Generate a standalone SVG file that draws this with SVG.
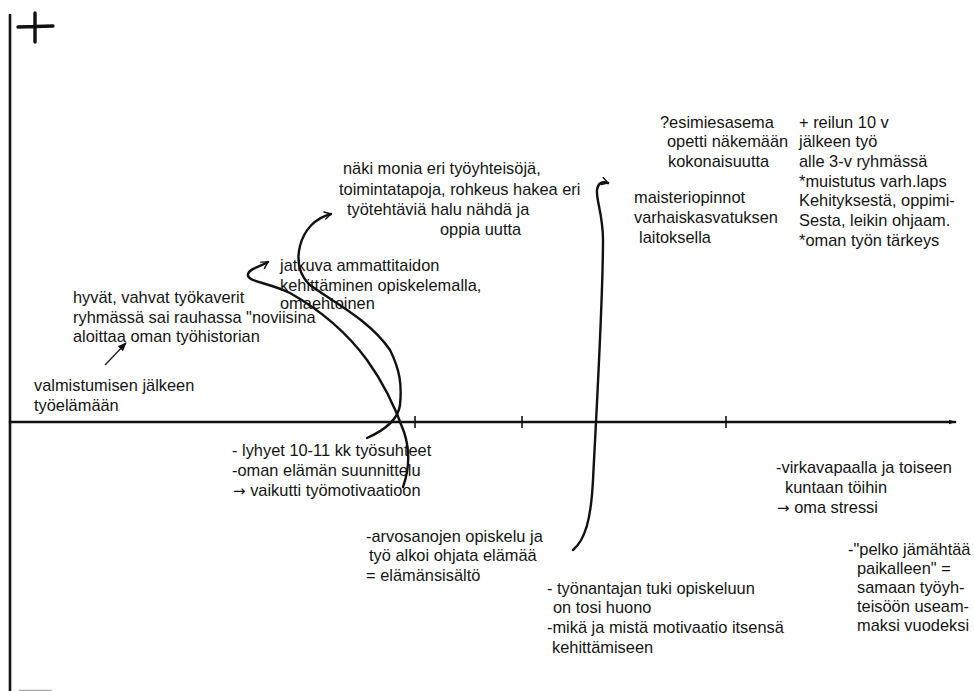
<svg xmlns="http://www.w3.org/2000/svg" width="974" height="691" viewBox="0 0 974 691">
  <style>
    .t { font-family: "Liberation Sans", Arial, sans-serif; font-size: 16.4px; fill: #141414; }
    .ar { font-family: "DejaVu Sans", sans-serif; font-size: 15px; }
    .axis { stroke: #111; stroke-width: 2.6; fill: none; stroke-linecap: round; }
    .tick { stroke: #111; stroke-width: 1.6; }
    .curve { stroke: #111; stroke-width: 2.4; fill: none; stroke-linecap: round; stroke-linejoin: round; }
    .thin { stroke: #222; stroke-width: 1.4; fill: none; }
  </style>
  <defs>
    <marker id="hook" viewBox="0 0 10 10" refX="8" refY="5" markerWidth="9" markerHeight="9" markerUnits="userSpaceOnUse" orient="auto">
      <path d="M1,1 L8,5 L1,9" fill="none" stroke="#111" stroke-width="1.6" stroke-linecap="round" stroke-linejoin="round"/>
    </marker>
    <marker id="solid" viewBox="0 0 10 10" refX="9" refY="5" markerWidth="9" markerHeight="9" markerUnits="userSpaceOnUse" orient="auto">
      <path d="M0,1 L10,5 L0,9 Z" fill="#111"/>
    </marker>
    <marker id="axisEnd" viewBox="0 0 10 10" refX="8" refY="5" markerWidth="8" markerHeight="8" markerUnits="userSpaceOnUse" orient="auto">
      <path d="M0,2 L9,5 L0,8 Z" fill="#111"/>
    </marker>
  </defs>

  <rect width="974" height="691" fill="#fff"/>

  <!-- axes and scale -->
  <g id="axes">
    <line class="axis" x1="10" y1="15" x2="10" y2="691"/>
    <line class="axis" x1="10" y1="422" x2="955" y2="422" marker-end="url(#axisEnd)"/>
    <line class="tick" x1="415" y1="416" x2="415" y2="428"/>
    <line class="tick" x1="522" y1="416" x2="522" y2="428"/>
    <line class="tick" x1="726" y1="416" x2="726" y2="428"/>
    <!-- plus sign (positive side) -->
    <path d="M35,13 L35,42 M18,27 L53,26" stroke="#111" stroke-width="3.4" stroke-linecap="round" fill="none"/>
    <!-- minus sign, clipped by the bottom edge -->
    <path d="M19,690.5 L52,690.5" stroke="#aaa" stroke-width="1.5" fill="none"/>
  </g>

  <!-- connectors -->
  <g id="connectors">
    <path id="c-start" class="thin" d="M105,365 L126,343" marker-end="url(#solid)"/>
    <path id="c-jatkuva" class="curve" d="M403,487 C409,470 410,450 404,432 C398,415 385,385 367,360 C345,330 320,310 290,293 C268,282 246,282 248,274 C250,268 258,268 268,262" marker-end="url(#hook)"/>
    <path id="c-naki" class="curve" d="M367,438 C385,430 398,420 400,405 C402,385 400,370 390,350 C370,320 330,300 310,285 C300,276 296,262 300,246 C304,230 315,218 331,214" marker-end="url(#hook)"/>
    <path id="c-maisteri" class="curve" d="M573,550 C585,540 591,520 593,480 C596,420 603,300 603,240 C603,215 596,200 597,190 C598,183 602,181 608,183" marker-end="url(#hook)"/>
  </g>

  <!-- notes -->
  <g id="n-valmistuminen" class="t">
    <text x="34" y="391">valmistumisen jälkeen</text>
    <text x="34" y="411">työelämään</text>
  </g>

  <g id="n-tyokaverit" class="t">
    <text x="73" y="303">hyvät, vahvat työkaverit</text>
    <text x="73" y="323">ryhmässä sai rauhassa "noviisina</text>
    <text x="73" y="342">aloittaa oman työhistorian</text>
  </g>

  <g id="n-lyhyet" class="t">
    <text x="232" y="456">- lyhyet 10-11 kk työsuhteet</text>
    <text x="232" y="476">-oman elämän suunnittelu</text>
    <text x="233" y="496"><tspan class="ar">→</tspan> vaikutti työmotivaatioon</text>
  </g>

  <g id="n-jatkuva" class="t">
    <text x="280" y="271">jatkuva ammattitaidon</text>
    <text x="280" y="291">kehittäminen opiskelemalla,</text>
    <text x="280" y="309">omaehtoinen</text>
  </g>

  <g id="n-naki" class="t">
    <text x="343" y="174">näki monia eri työyhteisöjä,</text>
    <text x="339" y="195">toimintatapoja, rohkeus hakea eri</text>
    <text x="347" y="215">työtehtäviä  halu nähdä ja</text>
    <text x="440" y="235">oppia uutta</text>
  </g>

  <g id="n-arvosanat" class="t">
    <text x="366" y="542">-arvosanojen opiskelu ja</text>
    <text x="369" y="561">työ alkoi ohjata elämää</text>
    <text x="366" y="581">= elämänsisältö</text>
  </g>

  <g id="n-tyonantaja" class="t">
    <text x="547" y="594">- työnantajan tuki opiskeluun</text>
    <text x="553" y="613">on tosi huono</text>
    <text x="547" y="633">-mikä ja mistä motivaatio itsensä</text>
    <text x="552" y="653">kehittämiseen</text>
  </g>

  <g id="n-esimies" class="t">
    <text x="660" y="128">?esimiesasema</text>
    <text x="667" y="147">opetti näkemään</text>
    <text x="668" y="167">kokonaisuutta</text>
  </g>

  <g id="n-maisteri" class="t">
    <text x="634" y="203">maisteriopinnot</text>
    <text x="634" y="223">varhaiskasvatuksen</text>
    <text x="639" y="243">laitoksella</text>
  </g>

  <g id="n-reilun" class="t">
    <text x="799" y="128">+ reilun 10 v</text>
    <text x="799" y="147">jälkeen työ</text>
    <text x="799" y="167">alle 3-v ryhmässä</text>
    <text x="799" y="187">*muistutus varh.laps</text>
    <text x="799" y="206">Kehityksestä, oppimi-</text>
    <text x="799" y="226">Sesta, leikin ohjaam.</text>
    <text x="799" y="246">*oman työn tärkeys</text>
  </g>

  <g id="n-virkavapaa" class="t">
    <text x="776" y="473">-virkavapaalla ja toiseen</text>
    <text x="785" y="493">kuntaan töihin</text>
    <text x="777" y="513"><tspan class="ar">→</tspan> oma stressi</text>
  </g>

  <g id="n-pelko" class="t">
    <text x="848" y="555">-"pelko jämähtää</text>
    <text x="857" y="574">paikalleen" =</text>
    <text x="857" y="593">samaan työyh-</text>
    <text x="857" y="612">teisöön useam-</text>
    <text x="857" y="631">maksi vuodeksi</text>
  </g>
</svg>
